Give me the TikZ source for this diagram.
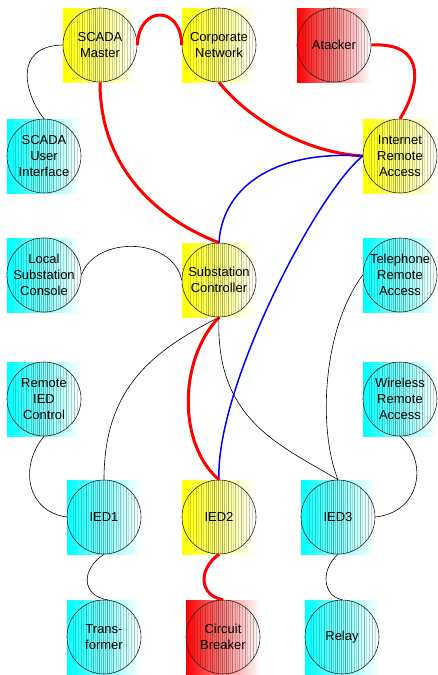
\documentclass[tikz,border=0pt]{standalone}
\usepackage{fontspec}
\setmainfont{Liberation Sans}
\newcommand\hatchlines{%
  \foreach \dx/\op in {-31/0.1,-29/0.18,-26/0.12,-23/0.2,-21/0.12,-18/0.25,-16/0.12,-13/0.2,-11/0.3,-9/0.15,-7/0.25,-5/0.35,-3/0.2,-1/0.3,1/0.2,3/0.35,5/0.25,7/0.15,9/0.3,12/0.2,14/0.12,16/0.25,19/0.15,22/0.3,24/0.12,27/0.2,30/0.25,33/0.15}{%
    \draw[black, opacity=\op, line width=0.45pt]
      ([xshift=\dx pt]path picture bounding box.north) -- ([xshift=\dx pt]path picture bounding box.south);}}
\tikzset{
  netnode/.style={circle, draw=black!85, line width=0.6pt, minimum size=74pt,
    inner sep=0pt, align=center, font=\fontsize{13}{16}\selectfont,
    text=black, path picture={\hatchlines}},
  redl/.style={red, line width=3pt},
  bluel/.style={blue, line width=1.5pt},
  blackl/.style={black, line width=0.6pt},
}
\newcommand\netnode[5]{%
  \shade[left color=#4, right color=white] (#2-37,#3-37) rectangle (#2+37,#3+37);
  \node[netnode] (#1) at (#2,#3) {#5};}
\begin{document}
\begin{tikzpicture}[x=1pt, y=-1pt]
\useasboundingbox (0,0) rectangle (437,675);
\netnode{SM}{100}{45}{yellow}{SCADA\\Master}
\netnode{CN}{219}{45}{yellow}{Corporate\\Network}
\netnode{AT}{334}{45}{red}{Atacker}
\netnode{SUI}{44}{156}{cyan}{SCADA\\User\\Interface}
\netnode{IRA}{400}{156}{yellow}{Internet\\Remote\\Access}
\netnode{LSC}{44}{275}{cyan}{Local\\Substation\\Console}
\netnode{SC}{219}{280}{yellow}{Substation\\Controller}
\netnode{TRA}{400}{275}{cyan}{Telephone\\Remote\\Access}
\netnode{RIC}{44}{399}{cyan}{Remote\\IED\\Control}
\netnode{WRA}{400}{399}{cyan}{Wireless\\Remote\\Access}
\netnode{IEDa}{104}{517}{cyan}{IED1}
\netnode{IEDb}{219}{517}{yellow}{IED2}
\netnode{IEDc}{338}{517}{cyan}{IED3}
\netnode{TR}{104}{637}{cyan}{Trans-\\former}
\netnode{CB}{223}{637}{red}{Circuit\\Breaker}
\netnode{RL}{342}{637}{cyan}{Relay}

\draw[redl] (SM.east) .. controls (139,5) and (181,5) .. (CN.west);
\draw[blackl] (SM.west) .. controls (12,46) and (25,95) .. (SUI.north);
\draw[redl] (SM.south) .. controls (100,170) and (160,220) .. (SC.north);
\draw[redl] (CN.south) .. controls (245,115) and (300,152) .. (IRA.west);
\draw[redl] (AT.east) .. controls (430,42) and (418,90) .. (IRA.north);
\draw[bluel] (IRA.west) .. controls (270,150) and (222,190) .. (SC.north);
\draw[bluel] (IRA.west) .. controls (315,195) and (215,390) .. (IEDb.north);
\draw[blackl] (LSC.east) .. controls (95,236) and (172,236) .. (SC.west);
\draw[blackl] (SC.south) .. controls (150,352) and (104,390) .. (IEDa.north);
\draw[redl] (SC.south) .. controls (178,360) and (178,445) .. (IEDb.north);
\draw[blackl] (SC.south) .. controls (215,420) and (280,445) .. (IEDc.north);
\draw[blackl] (TRA.west) .. controls (322,330) and (318,430) .. (IEDc.north);
\draw[blackl] (WRA.south) .. controls (428,460) and (422,512) .. (IEDc.east);
\draw[blackl] (RIC.south) .. controls (18,468) and (28,512) .. (IEDa.west);
\draw[blackl] (IEDa.south) .. controls (80,570) and (82,596) .. (TR.84);
\draw[redl] (IEDb.south) .. controls (197,570) and (200,596) .. (CB.north);
\draw[blackl] (IEDc.south) .. controls (320,570) and (323,596) .. (RL.north);
\end{tikzpicture}
\end{document}
